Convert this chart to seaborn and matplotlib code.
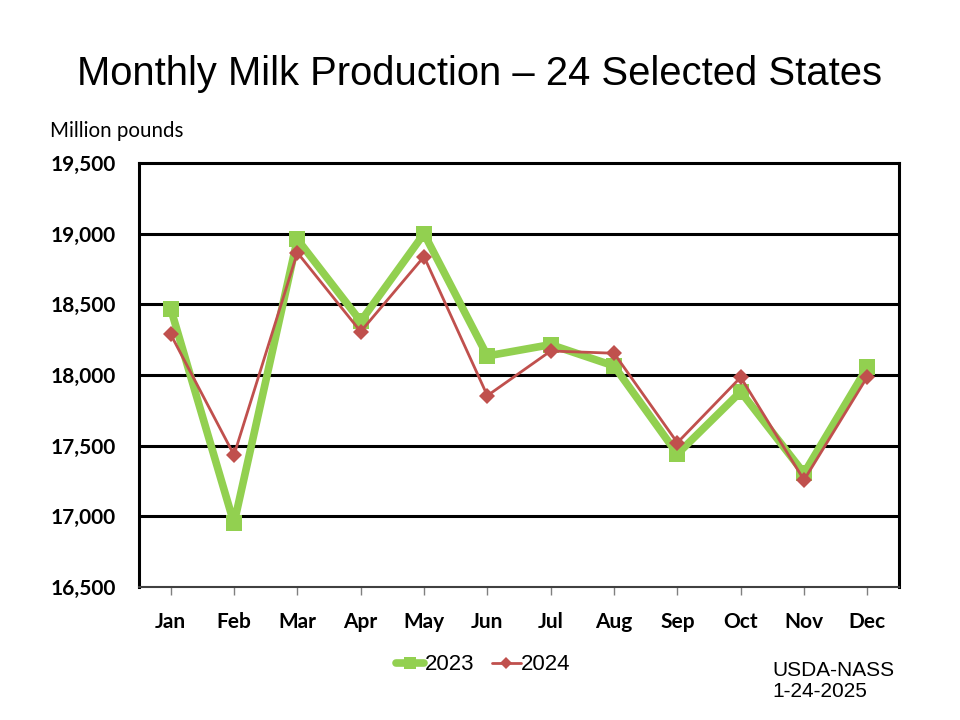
import matplotlib
matplotlib.use("Agg")
import matplotlib.pyplot as plt
import seaborn as sns
import pandas as pd

months = ["Jan", "Feb", "Mar", "Apr", "May", "Jun", "Jul", "Aug", "Sep", "Oct", "Nov", "Dec"]
prod_2023 = [18470, 16950, 18960, 18380, 19000, 18135, 18215, 18064, 17441, 17882, 17305, 18055]
prod_2024 = [18288, 17434, 18866, 18307, 18838, 17854, 18170, 18154, 17521, 17984, 17257, 17988]
y_ticks = [16500, 17000, 17500, 18000, 18500, 19000, 19500]

sns.set_theme(style="white")
plt.rcParams['font.family'] = ['Liberation Sans', 'DejaVu Sans']
plt.rcParams['text.color'] = 'black'
plt.rcParams['xtick.labelcolor'] = 'black'
plt.rcParams['ytick.labelcolor'] = 'black'

df = pd.DataFrame({
    "Month": months * 2,
    "Production": prod_2023 + prod_2024,
    "Year": ["2023"] * 12 + ["2024"] * 12,
})

fig = plt.figure(figsize=(9.6, 7.2), dpi=100)
ax = fig.add_axes([0.1448, 0.1847, 0.7917, 0.5889])

palette = {"2023": "#92D050", "2024": "#C0504D"}
sns.lineplot(data=df[df.Year == "2023"], x="Month", y="Production", ax=ax,
             color=palette["2023"], linewidth=5.5, marker="s", markersize=12,
             markeredgewidth=0, label="2023", sort=False, zorder=3)
sns.lineplot(data=df[df.Year == "2024"], x="Month", y="Production", ax=ax,
             color=palette["2024"], linewidth=2, marker="D", markersize=8.5,
             markeredgewidth=0, label="2024", sort=False, zorder=4)

ax.set_xlim(-0.5, 11.5)
ax.set_ylim(16500, 19500)
ax.set_yticks(y_ticks)
ax.set_yticklabels([f"{v:,}" for v in y_ticks], fontsize=15, fontweight="bold",
                   family=["Lato", "DejaVu Sans"])
ax.set_xticks(range(12))
ax.set_xticklabels(months, fontsize=15, fontweight="bold",
                   family=["Lato", "DejaVu Sans"])
ax.set_xlabel("")
ax.set_ylabel("")
for v in y_ticks[1:-1]:
    ax.axhline(v, color="black", linewidth=2.2, zorder=1)

for side in ["left", "top", "right"]:
    ax.spines[side].set_color("black")
    ax.spines[side].set_linewidth(2.2)
ax.spines["bottom"].set_color("#404040")
ax.spines["bottom"].set_linewidth(1.5)

ax.tick_params(axis="x", which="both", direction="out", length=6, width=1,
               color="#808080", bottom=True, pad=12)
ax.tick_params(axis="y", length=0, pad=16.5)

fig.text(0.5, 0.897, "Monthly Milk Production \u2013 24 Selected States",
         ha="center", va="center", fontsize=28.8)
fig.text(0.052, 0.818, "Million pounds", ha="left", va="center", fontsize=14.8,
         family=["Lato", "DejaVu Sans"])
fig.text(0.805, 0.054, "USDA-NASS\n1-24-2025", ha="left", va="center",
         fontsize=15, linespacing=1.15)

handles, labels = ax.get_legend_handles_labels()
ax.get_legend().remove()
fig.legend(handles, labels, loc="center", bbox_to_anchor=(0.503, 0.0764), ncol=2,
           frameon=False, fontsize=16, handlelength=1.3, handletextpad=0.0,
           columnspacing=0.8, markerscale=0.75)

fig.savefig("out.png", dpi=100)
